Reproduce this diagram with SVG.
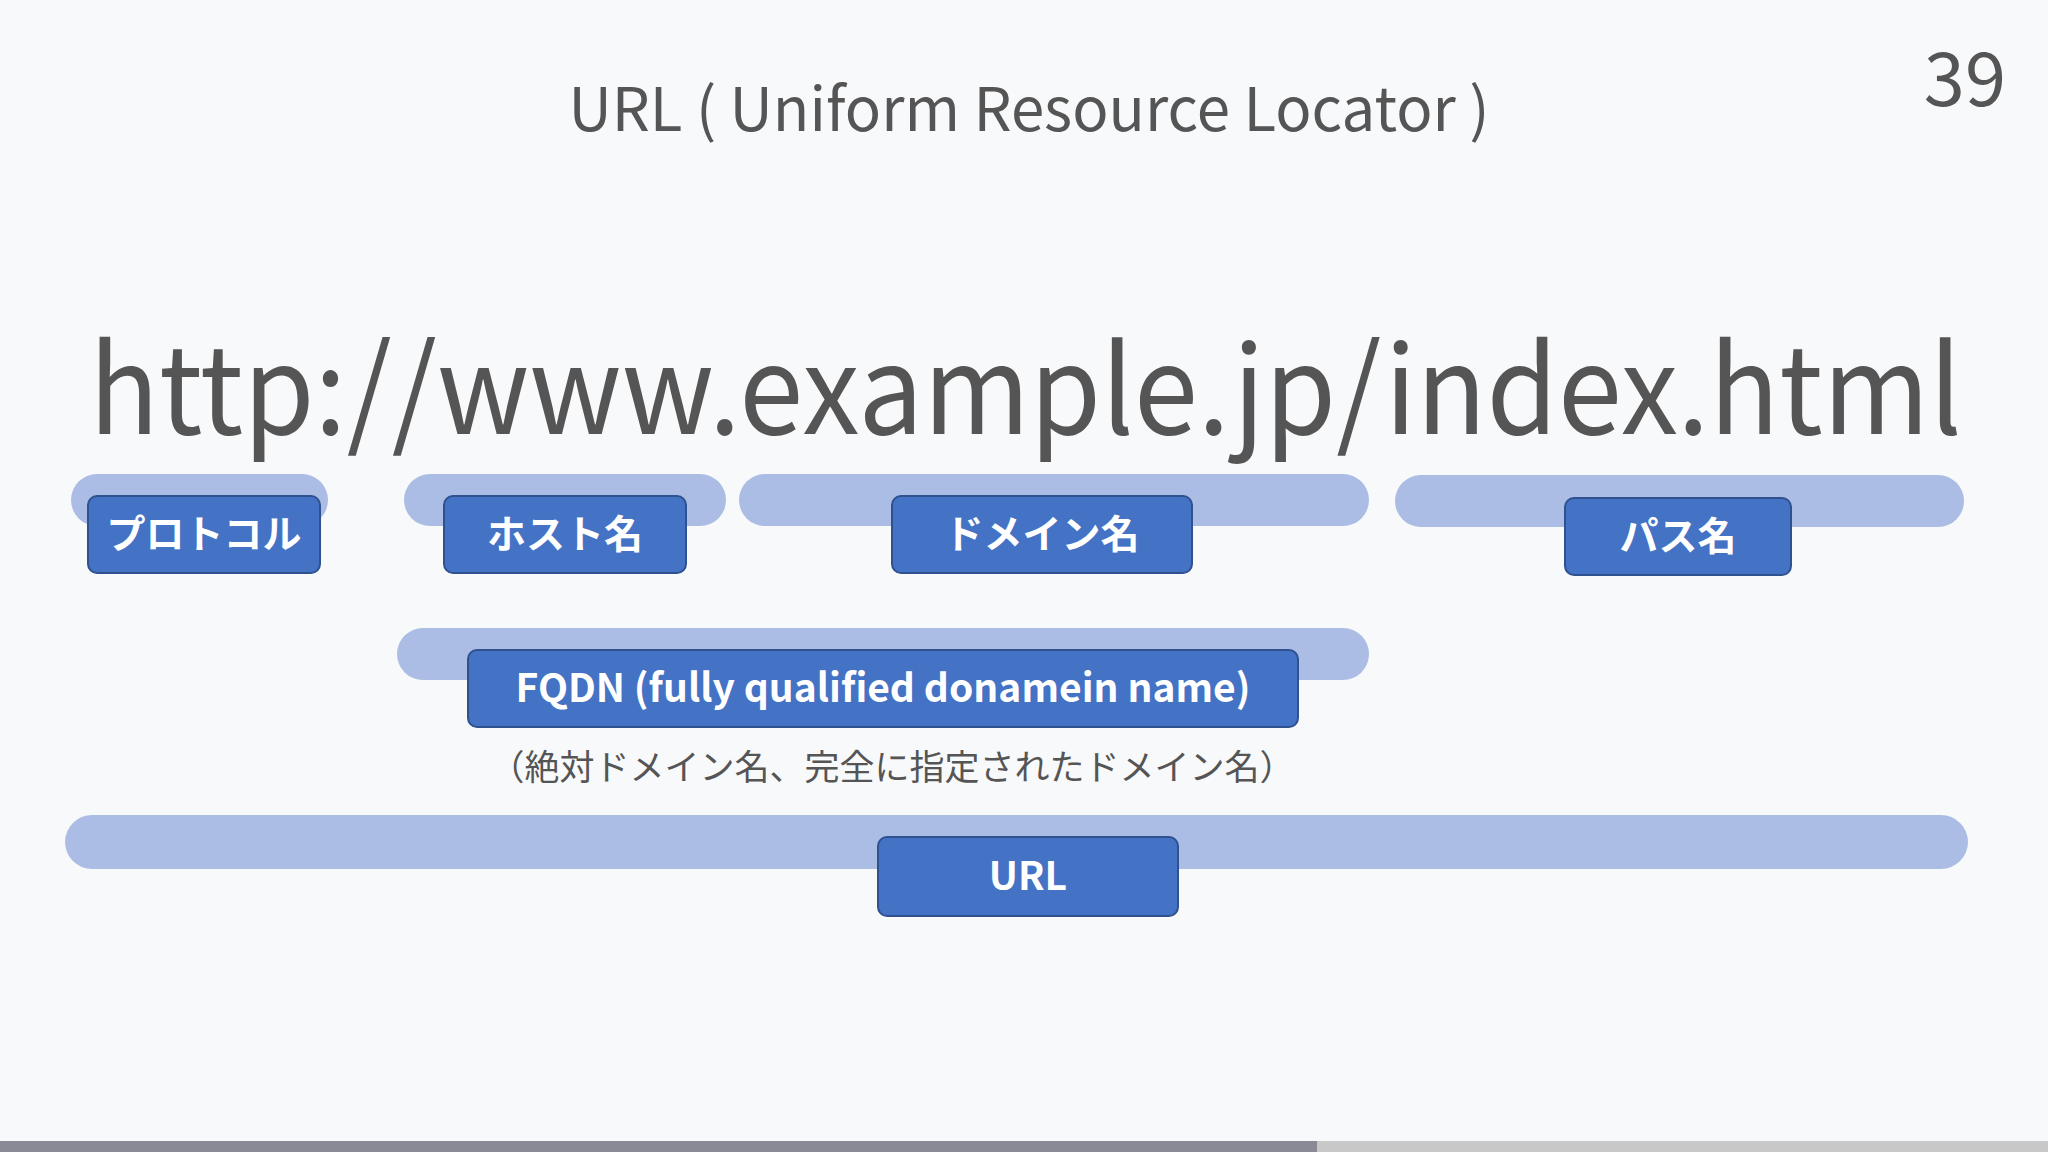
<svg xmlns="http://www.w3.org/2000/svg" width="2048" height="1152" viewBox="0 0 2048 1152">
<style>
.pill{fill:#abbde4}
.lab rect{fill:#4472c4;stroke:#2f528f;stroke-width:2}
.lab text{fill:#fff;font-family:"Noto Sans CJK JP","Noto Sans",sans-serif;font-weight:bold;font-size:39px;text-anchor:middle}
.t{font-family:"Noto Sans CJK JP","Noto Sans",sans-serif;fill:#555}
</style>
<rect width="2048" height="1152" fill="#f8f9fb"/>
<text class="t" x="1029" y="131" font-size="60" text-anchor="middle">URL ( Uniform Resource Locator )</text>
<text class="t" x="2006" y="106" font-size="74" text-anchor="end" fill="#8c8c8c">39</text>
<text class="t" x="89" y="434" font-size="122" textLength="1873" lengthAdjust="spacingAndGlyphs">http://www.example.jp/index.html</text>
<g id="connectors">
<rect class="pill" x="71" y="474" width="257" height="52" rx="26"/>
<rect class="pill" x="404" y="474" width="322" height="52" rx="26"/>
<rect class="pill" x="739" y="474" width="630" height="52" rx="26"/>
<rect class="pill" x="1395" y="475" width="569" height="52" rx="26"/>
<rect class="pill" x="397" y="628" width="972" height="52" rx="26"/>
<rect class="pill" x="65" y="815" width="1903" height="54" rx="27"/>
</g>
<g id="protocol" class="lab"><rect x="88" y="496" width="232" height="77" rx="9"/><text x="204" y="548">プロトコル</text></g>
<g id="host" class="lab"><rect x="444" y="496" width="242" height="77" rx="9"/><text x="565" y="548">ホスト名</text></g>
<g id="domain" class="lab"><rect x="892" y="496" width="300" height="77" rx="9"/><text x="1042" y="548">ドメイン名</text></g>
<g id="path" class="lab"><rect x="1565" y="498" width="226" height="77" rx="9"/><text x="1678" y="550">パス名</text></g>
<g id="fqdn" class="lab"><rect x="468" y="650" width="830" height="77" rx="9"/><text x="883" y="702">FQDN (fully qualified donamein name)</text></g>
<text class="t" x="892" y="780" font-size="35" text-anchor="middle" fill="#444">（絶対ドメイン名、完全に指定されたドメイン名）</text>
<g id="url" class="lab"><rect x="878" y="837" width="300" height="79" rx="9"/><text x="1028" y="890">URL</text></g>
<rect x="0" y="1141" width="1317" height="11" fill="#8a8a96"/>
<rect x="1317" y="1141" width="731" height="11" fill="#c8c8c8"/>
</svg>
